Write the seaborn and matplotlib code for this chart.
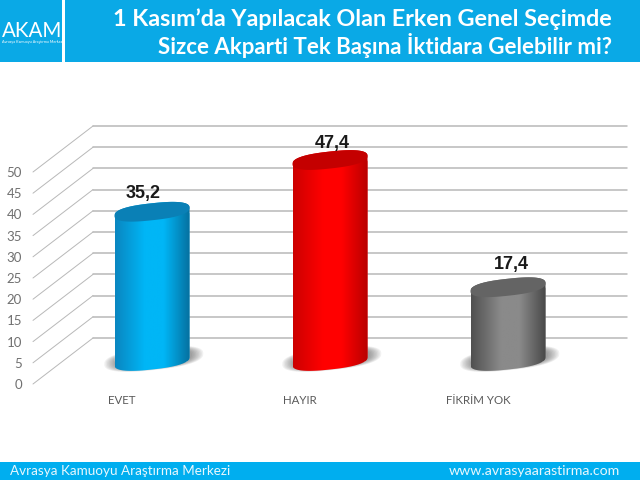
import numpy as np
import pandas as pd
import matplotlib.pyplot as plt
import seaborn as sns
from matplotlib.colors import LinearSegmentedColormap
from matplotlib.patches import Polygon, Rectangle

# ========= DATA =========
categories = ['EVET', 'HAYIR', 'FİKRİM YOK']
values = [35.2, 47.4, 17.4]
value_labels = ['35,2', '47,4', '17,4']
y_ticks = [0, 5, 10, 15, 20, 25, 30, 35, 40, 45, 50]
title_lines = ['1 Kasım’da Yapılacak Olan Erken Genel Seçimde',
               'Sizce Akparti Tek Başına İktidara Gelebilir mi?']
footer_left = 'Avrasya Kamuoyu Araştırma Merkezi'
footer_right = 'www.avrasyaarastirma.com'

# ========= STYLE =========
bar_colors = ['#0a9ad8', '#e80000', '#6e6e6e']
shades = [('#0a86c0', '#00b6f6', '#06709f', '#0a80b6'),
          ('#cc0000', '#ff0000', '#b80000', '#c40000'),
          ('#505050', '#8a8a8a', '#484848', '#646464')]
label_shift = [(-9, 18), (2, 17), (3, 23)]
GRID = '#b8b8b8'
BLUE = '#0aa9e6'
W, H = 640, 480
PX_X = 534 / 3      # pixels per category
PX_Y = 212 / 50     # pixels per unit
DEPTH = (60, 46)    # pixel shift from front plane to back wall

sns.set_theme(style='white')
plt.rcParams['font.family'] = ['Lato', 'DejaVu Sans']

df = pd.DataFrame({'cat': categories, 'val': values})
fig = plt.figure(figsize=(W / 100, H / 100), dpi=100, facecolor='white')


def plane_axes(shift_x, shift_y):
    return fig.add_axes([(33 + shift_x) / W, (96 + shift_y) / H, 534 / W, 212 / H])


# ========= FRONT PLANE: TICKS, WALL LINES =========
ax = plane_axes(0, 0)
ax.set_xlim(-0.5, 2.5)
ax.set_ylim(0, 50)
ax.set_xticks(range(3), categories)
ax.set_yticks(y_ticks)
ax.tick_params(axis='y', length=0, pad=8, labelsize=9.5, labelcolor='#707070')
ax.tick_params(axis='x', length=0, pad=8, labelsize=8.3, labelcolor='#5a5a5a')
sns.despine(ax=ax, left=True, bottom=True)

dx, dy = DEPTH[0] / PX_X, DEPTH[1] / PX_Y
for v in y_ticks:
    ax.plot([-0.5, -0.5 + dx], [v, v + dy], color=GRID, lw=0.7, clip_on=False)
    ax.plot([-0.5 + dx, 2.5 + dx], [v + dy, v + dy], color=GRID, lw=1.1, clip_on=False)

# ========= BARS (HALF WAY INTO THE DEPTH) =========
ax_bar = plane_axes(DEPTH[0] / 2, DEPTH[1] / 2)
ax_bar.patch.set_alpha(0)
sns.barplot(data=df, x='cat', y='val', hue='cat', palette=bar_colors, width=75 / PX_X,
            legend=False, ax=ax_bar, saturation=1, zorder=3)
ax_bar.set_xlim(-0.5, 2.5)
ax_bar.set_ylim(0, 50)
ax_bar.axis('off')

t = np.linspace(0, 2 * np.pi, 160)
RX, RY, SHEAR = 75 / PX_X / 2, 8.5 / PX_Y, 4.0 / PX_Y


def ring(cx, cy, scale=1.0, part=t):
    # slightly squared ellipse, tilted up to the right
    c = np.sign(np.cos(part)) * np.abs(np.cos(part)) ** 0.8
    s = np.sign(np.sin(part)) * np.abs(np.sin(part)) ** 0.8
    return np.column_stack([cx + scale * RX * c, cy + scale * (RY * s + SHEAR * c)])


for i, bar in enumerate(ax_bar.patches):
    cx = bar.get_x() + bar.get_width() / 2
    top = bar.get_height()
    edge, mid, edge2, cap = shades[i]

    # soft shadow on the floor
    for s in np.linspace(1.32, 1.02, 9):
        ax_bar.add_patch(Polygon(ring(cx + 0.01, 0.5, s), fc='#404040', ec='none', alpha=0.07,
                                 zorder=2, clip_on=False))

    # body outline: lower half of the base, then upper half of the cap
    lower = ring(cx, 0, part=np.linspace(np.pi, 2 * np.pi, 60))
    upper = ring(cx, top, part=np.linspace(0, np.pi, 60))
    outline = Polygon(np.vstack([lower, upper]), fc='none', ec='none',
                      transform=ax_bar.transData)
    ax_bar.add_patch(outline)
    bar.set_clip_box(fig.bbox)
    bar.set_clip_path(outline)

    cmap = LinearSegmentedColormap.from_list('cyl', [(0, edge), (0.4, mid), (0.65, mid), (1, edge2)])
    im = ax_bar.imshow(np.linspace(0, 1, 256)[None, :], cmap=cmap, aspect='auto', zorder=4,
                       extent=(cx - RX, cx + RX, -5, top + 5))
    im.set_clip_box(fig.bbox)
    im.set_clip_path(outline)

    ax_bar.add_patch(Polygon(ring(cx, top), fc=cap, ec='none', zorder=5, clip_on=False))

    ax_bar.annotate(value_labels[i], (cx, top), xytext=(label_shift[i][0] * 0.72, label_shift[i][1] * 0.72),
                    textcoords='offset points', ha='center', va='center', fontsize=13,
                    fontweight='bold', color='#1a1a1a', family=['Liberation Sans'], zorder=6,
                    annotation_clip=False)

ax_bar.set_xlim(-0.5, 2.5)
ax_bar.set_ylim(0, 50)

# ========= HEADER / FOOTER =========
for x0, y0, w, h in [(0, 0, 62, 62), (65, 0, 575, 62)]:
    fig.add_artist(Rectangle((x0 / W, 1 - (y0 + h) / H), w / W, h / H, fc=BLUE, ec='none',
                             transform=fig.transFigure))
fig.add_artist(Rectangle((0, 0), 1, 18 / H, fc='#00aeef', ec='none', transform=fig.transFigure))


def px_text(x, y, s, **kw):
    fig.text(x / W, 1 - y / H, s, va='center', **kw)


px_text(612, 19, title_lines[0], ha='right', color='white', fontsize=16.8, fontweight='bold')
px_text(612, 46, title_lines[1], ha='right', color='white', fontsize=16, fontweight='bold')
px_text(2, 31, 'AKAM', ha='left', color='white', fontsize=14.8)
px_text(2, 42, footer_left, ha='left', color='white', fontsize=2.7)
px_text(10, 471, footer_left, ha='left', color='#e8f7fd', fontsize=9.7)
px_text(620, 471, footer_right, ha='right', color='#e8f7fd', fontsize=10.2)

fig.savefig('out.png', dpi=100)
